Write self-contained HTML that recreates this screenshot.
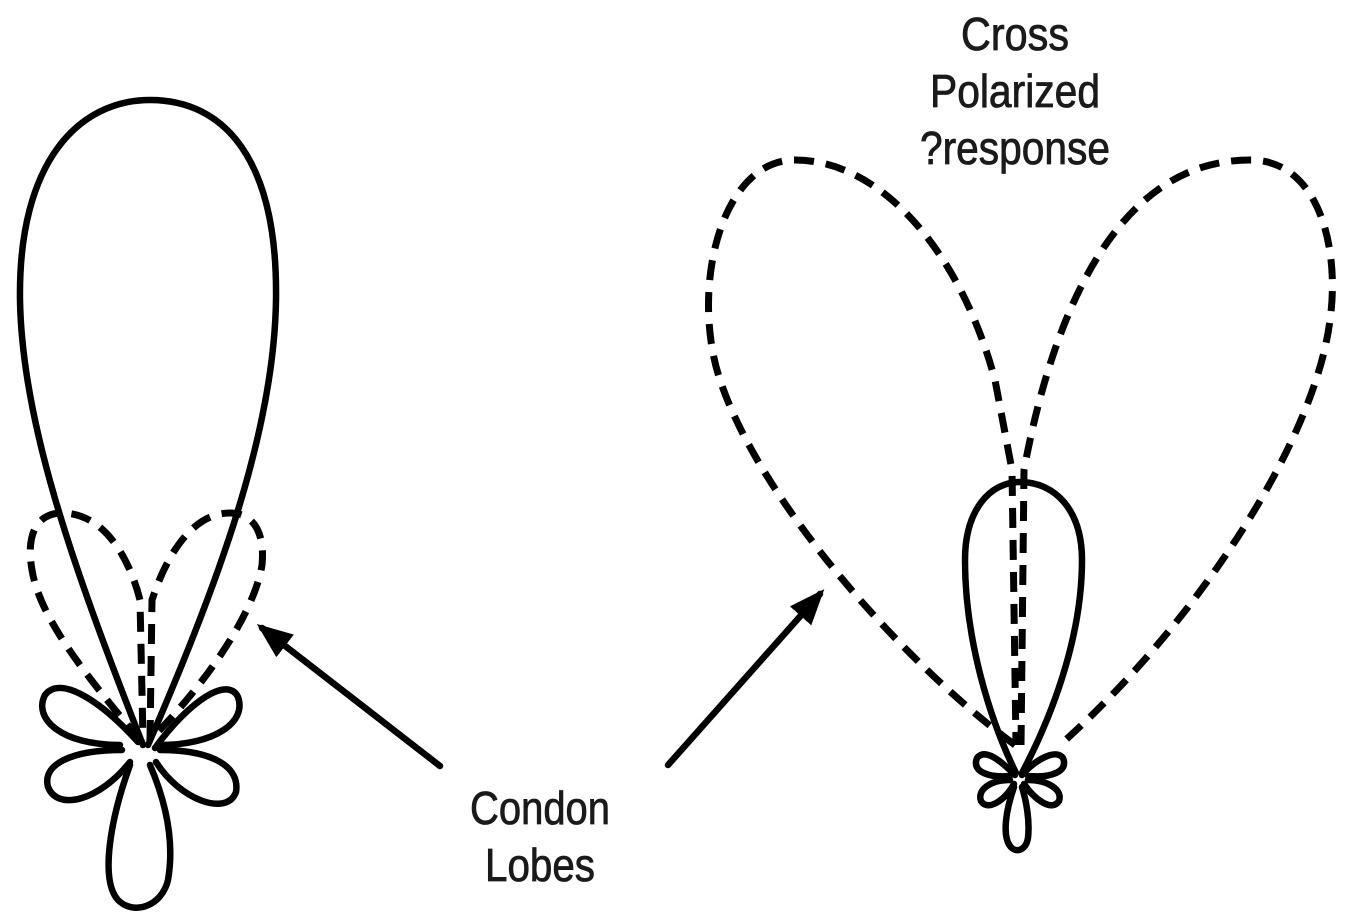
<!DOCTYPE html>
<html><head><meta charset="utf-8"><style>html,body{margin:0;padding:0;background:#fff}svg{display:block}</style></head>
<body>
<svg width="1346" height="921" viewBox="0 0 1346 921" xmlns="http://www.w3.org/2000/svg">
<defs>
<marker id="ah" markerWidth="6" markerHeight="6" refX="4.5" refY="3" orient="auto" markerUnits="strokeWidth">
<path d="M0,0.8 L5.5,3 L0,5.2 Z" fill="#000"/>
</marker>
</defs>
<g fill="none" stroke="#000" stroke-width="6.5" stroke-linecap="round" stroke-linejoin="round">
<path d="M143,745 C 70,560 22,420 20,300 C 18,160 80,100 150,100 C 225,100 278,160 276,300 C 274,430 220,580 148,745"/>
<path d="M138,742 C 100,700 60,675 45,695 C 33,718 60,745 120,745"/>
<path d="M122,750 C 70,750 42,765 48,787 C 58,812 100,800 130,762"/>
<path d="M130,765 C 110,820 100,880 118,900 C 134,916 162,906 168,880 C 175,840 165,800 150,765"/>
<path d="M155,748 C 190,700 228,676 238,697 C 247,722 215,745 160,745"/>
<path d="M160,750 C 215,750 240,768 236,792 C 227,817 180,800 156,762"/>
<path d="M1015,775 C 1000,760 985,748 977,758 C 971,772 990,778 1010,776"/>
<path d="M1010,780 C 990,780 977,790 981,801 C 988,812 1005,800 1014,784"/>
<path d="M1014,787 C 1006,810 1002,835 1010,846 C 1016,854 1026,850 1028,838 C 1030,820 1026,800 1022,787"/>
<path d="M1022,775 C 1035,760 1056,748 1063,758 C 1069,772 1050,778 1028,776"/>
<path d="M1028,780 C 1048,780 1063,790 1059,801 C 1052,812 1035,800 1024,784"/>
<path d="M1016,773 C 990,720 965,640 965,560 C 965,510 990,482 1020,482 C 1055,482 1082,510 1082,560 C 1082,640 1050,720 1022,773"/>
<line x1="440" y1="766" x2="262" y2="628" marker-end="url(#ah)"/>
<line x1="668" y1="765" x2="820" y2="594" marker-end="url(#ah)"/>
</g>
<g fill="none" stroke="#000" stroke-width="7" stroke-dasharray="20 12" stroke-linecap="butt">
<path d="M140,740 C 90,680 40,620 32,570 C 25,530 40,513 62,513 C 105,513 130,560 140,600 L 143,740"/>
<path d="M150,740 L 152,600 C 165,560 190,513 230,513 C 255,513 265,535 262,565 C 255,610 210,680 150,740"/>
<path d="M1015,745 C 900,660 760,500 720,380 C 690,290 720,160 795,160 C 880,160 960,250 995,380 L 1012,470 L 1016,745"/>
<path d="M1021,745 L 1024,470 C 1050,330 1110,160 1250,160 C 1320,160 1340,250 1330,320 C 1315,440 1200,620 1060,745"/>
</g>
<g font-family="'Liberation Sans',sans-serif" font-size="46" fill="#1a1a1a" stroke="#1a1a1a" stroke-width="0.8" text-anchor="middle">
<text x="1015" y="50" textLength="108" lengthAdjust="spacingAndGlyphs">Cross</text>
<text x="1015" y="107" textLength="170" lengthAdjust="spacingAndGlyphs">Polarized</text>
<text x="1015" y="164" textLength="190" lengthAdjust="spacingAndGlyphs">?response</text>
<text x="540" y="824" textLength="140" lengthAdjust="spacingAndGlyphs">Condon</text>
<text x="540" y="881" textLength="110" lengthAdjust="spacingAndGlyphs">Lobes</text>
</g>
</svg>
</body></html>
